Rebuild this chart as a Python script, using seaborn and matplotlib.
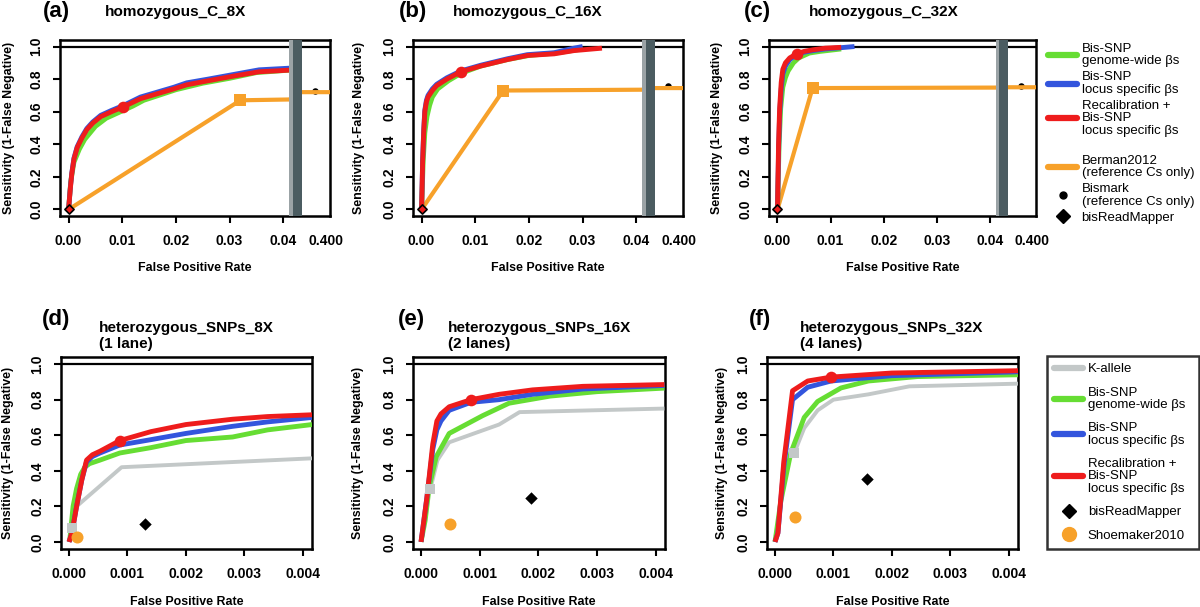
import numpy as np
import matplotlib
matplotlib.use("Agg")
import matplotlib.pyplot as plt
from matplotlib.lines import Line2D
import seaborn as sns

sns.set_theme(style="white")
plt.rcParams['font.family'] = ['Liberation Sans', 'DejaVu Sans']
for k in ['text.color', 'axes.labelcolor', 'xtick.color', 'ytick.color', 'axes.edgecolor']:
    plt.rcParams[k] = 'black'

# ---------------- colours ----------------
GREEN = '#66dd33'
BLUE = '#3355dd'
RED = '#ee1c1c'
ORANGE = '#f7a12a'
GRAY = '#c3c8c8'
BAR_LIGHT = '#9ba3a6'
BAR_DARK = '#4b5c61'

# ---------------- data: top row (homozygous C) ----------------
top_titles = ['homozygous_C_8X', 'homozygous_C_16X', 'homozygous_C_32X']
top_letters = ['(a)', '(b)', '(c)']

a_green_x = [0, 0.0004, 0.001, 0.002, 0.003, 0.005, 0.007, 0.009, 0.012, 0.014, 0.02, 0.025, 0.03, 0.035, 0.0411]
a_green_y = [0, 0.17, 0.29, 0.37, 0.43, 0.51, 0.56, 0.59, 0.635, 0.67, 0.735, 0.775, 0.805, 0.84, 0.855]
a_blue_x = [0, 0.0003, 0.0006, 0.001, 0.0016, 0.0025, 0.0034, 0.0045, 0.006, 0.008, 0.0102, 0.0134, 0.0165, 0.0196, 0.022, 0.026, 0.031, 0.0355, 0.0411]
a_blue_y = [0, 0.125, 0.225, 0.315, 0.385, 0.447, 0.497, 0.537, 0.578, 0.608, 0.638, 0.69, 0.72, 0.75, 0.777, 0.80, 0.83, 0.857, 0.867]
a_red_x = [0, 0.0003, 0.0006, 0.001, 0.0016, 0.0025, 0.0034, 0.0045, 0.006, 0.008, 0.0102, 0.0134, 0.0165, 0.0196, 0.022, 0.026, 0.031, 0.0355, 0.0411]
a_red_y = [0, 0.12, 0.22, 0.31, 0.38, 0.44, 0.49, 0.53, 0.57, 0.60, 0.63, 0.68, 0.71, 0.74, 0.765, 0.79, 0.82, 0.845, 0.855]
a_berman_x = [0, 0.032, 0.0411, 0.3955, 0.4008]
a_berman_y = [0, 0.67, 0.675, 0.72, 0.72]
a_berman_pt = (0.032, 0.67)
a_red_pt = (0.0102, 0.63)
a_bismark = (0.398, 0.73)

b_green_x = [0, 0.0003, 0.0006, 0.001, 0.0015, 0.002, 0.003, 0.005, 0.0073, 0.011, 0.016, 0.02, 0.025, 0.03]
b_green_y = [0, 0.30, 0.47, 0.57, 0.64, 0.69, 0.74, 0.79, 0.835, 0.88, 0.92, 0.945, 0.96, 0.985]
b_blue_x = [0, 0.0002, 0.0004, 0.0006, 0.0009, 0.0012, 0.002, 0.0028, 0.0047, 0.0073, 0.011, 0.016, 0.0197, 0.0247, 0.0284, 0.030]
b_blue_y = [0, 0.31, 0.49, 0.61, 0.67, 0.70, 0.74, 0.768, 0.808, 0.85, 0.885, 0.925, 0.95, 0.962, 0.99, 1.0]
b_red_x = [0, 0.0002, 0.0004, 0.0006, 0.0009, 0.0012, 0.002, 0.0028, 0.0047, 0.0073, 0.011, 0.016, 0.0197, 0.0247, 0.0284, 0.0336]
b_red_y = [0, 0.30, 0.48, 0.60, 0.66, 0.69, 0.73, 0.76, 0.80, 0.845, 0.88, 0.92, 0.945, 0.955, 0.975, 0.99]
b_berman_x = [0, 0.0152, 0.0411, 0.3955, 0.4008]
b_berman_y = [0, 0.73, 0.735, 0.745, 0.745]
b_berman_pt = (0.0152, 0.73)
b_red_pt = (0.0073, 0.845)
b_bismark = (0.398, 0.76)

c_green_x = [0, 0.0003, 0.0006, 0.001, 0.0015, 0.002, 0.003, 0.004, 0.006, 0.008, 0.012]
c_green_y = [0, 0.40, 0.62, 0.75, 0.81, 0.85, 0.90, 0.93, 0.96, 0.97, 0.985]
c_blue_x = [0, 0.0002, 0.0004, 0.0007, 0.001, 0.0015, 0.0023, 0.0036, 0.005, 0.0067, 0.009, 0.012, 0.0145]
c_blue_y = [0, 0.35, 0.58, 0.74, 0.83, 0.88, 0.92, 0.95, 0.965, 0.975, 0.985, 0.993, 1.0]
c_red_x = [0, 0.0002, 0.0004, 0.0007, 0.001, 0.0015, 0.0023, 0.0036, 0.005, 0.0067, 0.009, 0.012]
c_red_y = [0, 0.40, 0.62, 0.78, 0.86, 0.90, 0.93, 0.955, 0.97, 0.98, 0.99, 0.995]
c_berman_x = [0, 0.0066, 0.0411, 0.3955, 0.4008]
c_berman_y = [0, 0.745, 0.748, 0.75, 0.75]
c_berman_pt = (0.0066, 0.745)
c_red_pt = (0.0036, 0.955)
c_bismark = (0.398, 0.76)

brm_top = (0.0, 0.0)  # bisReadMapper in top panels

top_xticks = [0, 0.01, 0.02, 0.03, 0.04, 0.4]
top_xticklabels = ['0.00', '0.01', '0.02', '0.03', '0.04', '0.400']

# ---------------- data: bottom row (heterozygous SNPs) ----------------
bot_titles = ['heterozygous_SNPs_8X\n(1 lane)', 'heterozygous_SNPs_16X\n(2 lanes)', 'heterozygous_SNPs_32X\n(4 lanes)']
bot_letters = ['(d)', '(e)', '(f)']

d_gray_x = [0.00005, 0.00013, 0.0009, 0.00416]
d_gray_y = [0.078, 0.20, 0.42, 0.47]
d_green_x = [0.00001, 0.00007, 0.00013, 0.0002, 0.00027, 0.00035, 0.00053, 0.00087, 0.0014, 0.002, 0.0028, 0.0034, 0.00416]
d_green_y = [0, 0.20, 0.30, 0.38, 0.42, 0.44, 0.46, 0.50, 0.53, 0.57, 0.59, 0.63, 0.66]
d_blue_x = [0, 0.00005, 0.00013, 0.00022, 0.0003, 0.0004, 0.00053, 0.00087, 0.0014, 0.002, 0.0028, 0.0034, 0.00416]
d_blue_y = [0, 0.05, 0.20, 0.35, 0.45, 0.48, 0.50, 0.545, 0.575, 0.61, 0.65, 0.675, 0.70]
d_red_x = [0, 0.00005, 0.00013, 0.00022, 0.0003, 0.0004, 0.00053, 0.00087, 0.0014, 0.002, 0.0028, 0.0034, 0.00416]
d_red_y = [0, 0.05, 0.20, 0.35, 0.46, 0.49, 0.51, 0.57, 0.62, 0.66, 0.69, 0.705, 0.715]
d_gray_pt = (0.00005, 0.078)
d_red_pt = (0.00087, 0.57)
d_shoemaker = (0.00013, 0.025)
d_brm = (0.0013, 0.10)

e_gray_x = [0.00016, 0.00028, 0.00048, 0.00133, 0.00168, 0.00415]
e_gray_y = [0.30, 0.46, 0.56, 0.66, 0.73, 0.75]
e_green_x = [0, 0.00007, 0.00014, 0.00026, 0.00048, 0.00105, 0.0015, 0.0022, 0.003, 0.00415]
e_green_y = [0, 0.12, 0.31, 0.48, 0.61, 0.71, 0.78, 0.82, 0.845, 0.865]
e_blue_x = [0, 0.0001, 0.0002, 0.00027, 0.00034, 0.00048, 0.00085, 0.00133, 0.0019, 0.00276, 0.00415]
e_blue_y = [0, 0.25, 0.52, 0.63, 0.68, 0.74, 0.785, 0.80, 0.83, 0.86, 0.88]
e_red_x = [0, 0.0001, 0.0002, 0.00027, 0.00034, 0.00048, 0.00085, 0.00133, 0.0019, 0.00276, 0.00415]
e_red_y = [0, 0.25, 0.55, 0.68, 0.72, 0.76, 0.80, 0.83, 0.855, 0.875, 0.885]
e_gray_pt = (0.00016, 0.30)
e_red_pt = (0.00085, 0.80)
e_shoemaker = (0.0005, 0.10)
e_brm = (0.00187, 0.245)

f_gray_x = [0.00033, 0.0005, 0.00073, 0.001, 0.0016, 0.0023, 0.00416]
f_gray_y = [0.50, 0.64, 0.74, 0.80, 0.83, 0.875, 0.89]
f_green_x = [0, 0.0001, 0.00027, 0.0005, 0.00073, 0.00113, 0.0016, 0.00244, 0.00416]
f_green_y = [0, 0.23, 0.50, 0.70, 0.79, 0.866, 0.905, 0.93, 0.94]
f_blue_x = [0, 0.00005, 0.00015, 0.0003, 0.00056, 0.00096, 0.002, 0.004, 0.00416]
f_blue_y = [0, 0.05, 0.42, 0.80, 0.87, 0.905, 0.935, 0.955, 0.957]
f_red_x = [0, 0.00005, 0.00015, 0.0003, 0.00056, 0.00096, 0.002, 0.004, 0.00416]
f_red_y = [0, 0.05, 0.45, 0.85, 0.905, 0.927, 0.95, 0.962, 0.963]
f_gray_pt = (0.00033, 0.50)
f_red_pt = (0.00096, 0.927)
f_shoemaker = (0.00034, 0.14)
f_brm = (0.00158, 0.352)

bot_xticks = [0, 0.001, 0.002, 0.003, 0.004]
bot_xticklabels = ['0.000', '0.001', '0.002', '0.003', '0.004']
yticks = [0, 0.2, 0.4, 0.6, 0.8, 1.0]
yticklabels = ['0.0', '0.2', '0.4', '0.6', '0.8', '1.0']

# ---------------- broken x axis for top row ----------------
G1, G2, GW = 0.0411, 0.3955, 0.0023


def fwd(x):
    x = np.asarray(x, dtype=float)
    return np.where(x <= G1, x,
                    np.where(x >= G2, G1 + GW + (x - G2),
                             G1 + (x - G1) / (G2 - G1) * GW))


def inv(u):
    u = np.asarray(u, dtype=float)
    return np.where(u <= G1, u,
                    np.where(u >= G1 + GW, G2 + (u - G1 - GW),
                             G1 + (u - G1) / GW * (G2 - G1)))


W, H = 1200, 607
fig = plt.figure(figsize=(W / 100, H / 100), dpi=100)


def add_ax(l, r, t, b):
    return fig.add_axes([l / W, 1 - b / H, (r - l) / W, (b - t) / H])


BOLD = dict(fontweight='bold')


def style_axes(ax, xticks, xlabels, ylab_px, xlab_px):
    ax.set_facecolor('white')
    for side in ['left', 'right', 'top', 'bottom']:
        ax.spines[side].set_visible(True)
        ax.spines[side].set_color('black')
        ax.spines[side].set_linewidth(1.8)
    ax.set_xticks(xticks)
    ax.set_xticklabels(xlabels, fontsize=10, **BOLD)
    ax.set_yticks(yticks)
    ax.set_yticklabels(yticklabels, fontsize=10, rotation=90, va='center', **BOLD)
    ax.tick_params(axis='both', direction='out', length=5, width=1.5, colors='black',
                   bottom=True, left=True, top=False, right=False)
    ax.tick_params(axis='x', pad=8)
    ax.tick_params(axis='y', pad=7)
    ax.set_ylim(-0.04, 1.04)
    ax.set_ylabel('Sensitivity (1-False Negative)', fontsize=8.9, **BOLD)
    ax.set_xlabel('False Positive Rate', fontsize=8.9, **BOLD)
    bb = ax.get_position()
    ax.yaxis.set_label_coords(ylab_px / (bb.width * W), 0.5)
    ax.xaxis.set_label_coords(0.5, -xlab_px / (bb.height * H))
    ax.xaxis.label.set_va('center')
    ax.yaxis.label.set_va('center')
    ax.grid(False)


def line(ax, x, y, color, lw, z):
    sns.lineplot(x=x, y=y, ax=ax, color=color, linewidth=lw, sort=False,
                 estimator=None, legend=False, zorder=z)
    ax.lines[-1].set_solid_capstyle('butt')


def point(ax, pt, color, marker, s, z, ec=None, lw=0):
    sns.scatterplot(x=[pt[0]], y=[pt[1]], ax=ax, color=color, marker=marker, s=s,
                    edgecolor=ec if ec else color, linewidth=lw, zorder=z, legend=False)


# ---------------- top row ----------------
top_boxes = [(60, 330), (413, 683), (769, 1036)]
top_data = [
    (a_green_x, a_green_y, a_blue_x, a_blue_y, a_red_x, a_red_y, a_berman_x, a_berman_y, a_berman_pt, a_red_pt, a_bismark),
    (b_green_x, b_green_y, b_blue_x, b_blue_y, b_red_x, b_red_y, b_berman_x, b_berman_y, b_berman_pt, b_red_pt, b_bismark),
    (c_green_x, c_green_y, c_blue_x, c_blue_y, c_red_x, c_red_y, c_berman_x, c_berman_y, c_berman_pt, c_red_pt, c_bismark),
]
title_centres = [176, 528, 884]
letter_centres = [56, 413, 757]
ylab_offsets = [-51, -54, -52]

for i, ((l, r), dat) in enumerate(zip(top_boxes, top_data)):
    gx, gy, bx, by, rx, ry, ox, oy, opt, rpt, bis = dat
    ax = add_ax(l, r, 40, 216)
    point(ax, bis, 'black', 'o', 22, 2)
    line(ax, ox, oy, ORANGE, 3.0, 3)
    point(ax, opt, ORANGE, 's', 70, 3.5)
    line(ax, gx, gy, GREEN, 3.5, 4)
    line(ax, bx, by, BLUE, 3.5, 4.1)
    line(ax, rx, ry, RED, 3.5, 4.2)
    point(ax, rpt, RED, 'o', 70, 4.3)
    point(ax, brm_top, RED, 'D', 22, 4.4, ec='black', lw=1.2)
    ax.axhline(1.0, color='black', lw=1.6, zorder=2)
    ax.set_xscale('function', functions=(fwd, inv))
    ax.set_xlim(-0.0016, 0.4008)
    split = G1 + 0.3 * (G2 - G1)
    ax.axvspan(G1, split, color=BAR_LIGHT, zorder=6, lw=0)
    ax.axvspan(split, G2, color=BAR_DARK, zorder=6, lw=0)
    style_axes(ax, top_xticks, top_xticklabels, ylab_offsets[i], 52)
    ax.xaxis.get_major_ticks()[-1].tick1line.set_visible(False)
    fig.text(letter_centres[i] / W, 1 - 12 / H, top_letters[i], fontsize=16, ha='center', va='center', **BOLD)
    fig.text(title_centres[i] / W, 1 - 12 / H, top_titles[i], fontsize=11, ha='center', va='center', **BOLD)

# ---------------- bottom row ----------------
bot_boxes = [(61, 312), (413, 665), (767, 1018)]
bot_data = [
    (d_gray_x, d_gray_y, d_green_x, d_green_y, d_blue_x, d_blue_y, d_red_x, d_red_y, d_gray_pt, d_red_pt, d_shoemaker, d_brm),
    (e_gray_x, e_gray_y, e_green_x, e_green_y, e_blue_x, e_blue_y, e_red_x, e_red_y, e_gray_pt, e_red_pt, e_shoemaker, e_brm),
    (f_gray_x, f_gray_y, f_green_x, f_green_y, f_blue_x, f_blue_y, f_red_x, f_red_y, f_gray_pt, f_red_pt, f_shoemaker, f_brm),
]
bot_letter_centres = [56, 411, 760]
bot_title_left = [99, 448, 800]
bot_ylab = [-53, -55, -45]

for i, ((l, r), dat) in enumerate(zip(bot_boxes, bot_data)):
    kx, ky, gx, gy, bx, by, rx, ry, kpt, rpt, sho, brm = dat
    ax = add_ax(l, r, 357, 549)
    line(ax, kx, ky, GRAY, 2.8, 3)
    line(ax, gx, gy, GREEN, 3.5, 4)
    line(ax, bx, by, BLUE, 3.5, 4.1)
    line(ax, rx, ry, RED, 3.5, 4.2)
    point(ax, kpt, GRAY, 's', 60, 4.25)
    point(ax, rpt, RED, 'o', 70, 4.3)
    point(ax, sho, ORANGE, 'o', 75, 4.4)
    point(ax, brm, 'black', 'D', 40, 4.5)
    ax.axhline(1.0, color='black', lw=1.6, zorder=2)
    ax.set_xlim(-0.000137, 0.00416)
    style_axes(ax, bot_xticks, bot_xticklabels, bot_ylab[i], 53)
    fig.text(bot_letter_centres[i] / W, 1 - 320 / H, bot_letters[i], fontsize=16, ha='center', va='center', **BOLD)
    fig.text(bot_title_left[i] / W, 1 - 336 / H, bot_titles[i], fontsize=11, ha='left', va='center',
             linespacing=1.15, **BOLD)

# ---------------- legends ----------------
spacer = Line2D([], [], color='none')
top_handles = [
    Line2D([], [], color=GREEN, lw=4.5),
    Line2D([], [], color=BLUE, lw=4.5),
    Line2D([], [], color=RED, lw=4.5),
    spacer,
    Line2D([], [], color=ORANGE, lw=4.5),
    Line2D([], [], color='black', marker='o', ls='none', ms=5),
    Line2D([], [], color='black', marker='D', ls='none', ms=7),
]
top_labels = ['Bis-SNP\ngenome-wide βs', 'Bis-SNP\nlocus specific βs',
              'Recalibration +\nBis-SNP\nlocus specific βs', ' ',
              'Berman2012\n(reference Cs only)', 'Bismark\n(reference Cs only)', 'bisReadMapper']
leg1 = fig.legend(top_handles, top_labels, loc='upper left', bbox_to_anchor=(1048 / W, 1 - 43 / H),
                  frameon=False, prop={'family': 'Liberation Sans', 'size': 9.5},
                  handlelength=2.2, handletextpad=0.35, labelspacing=0.3, borderaxespad=0, borderpad=0)
for t in leg1.get_texts():
    t.set_linespacing(1.05)
leg1.get_texts()[3].set_fontsize(4)

bot_handles = [
    Line2D([], [], color=GRAY, lw=4.5),
    Line2D([], [], color=GREEN, lw=4.5),
    Line2D([], [], color=BLUE, lw=4.5),
    Line2D([], [], color=RED, lw=4.5),
    Line2D([], [], color='black', marker='D', ls='none', ms=7),
    Line2D([], [], color=ORANGE, marker='o', ls='none', ms=10),
]
bot_labels = ['K-allele', 'Bis-SNP\ngenome-wide βs', 'Bis-SNP\nlocus specific βs',
              'Recalibration +\nBis-SNP\nlocus specific βs', 'bisReadMapper', 'Shoemaker2010']
leg2 = fig.legend(bot_handles, bot_labels, loc='upper left',
                  bbox_to_anchor=(1047 / W, 1 - 356 / H - 0.01, 152 / W, 0.01), mode='expand',
                  frameon=True, fancybox=False, edgecolor='black',
                  prop={'family': 'Liberation Sans', 'size': 9.5},
                  handlelength=2.2, handletextpad=0.35, labelspacing=0.85, borderaxespad=0, borderpad=0.55)
leg2.get_frame().set_linewidth(1.8)
for t in leg2.get_texts():
    t.set_linespacing(1.05)

fig.savefig('out.png', dpi=100, facecolor='white')
